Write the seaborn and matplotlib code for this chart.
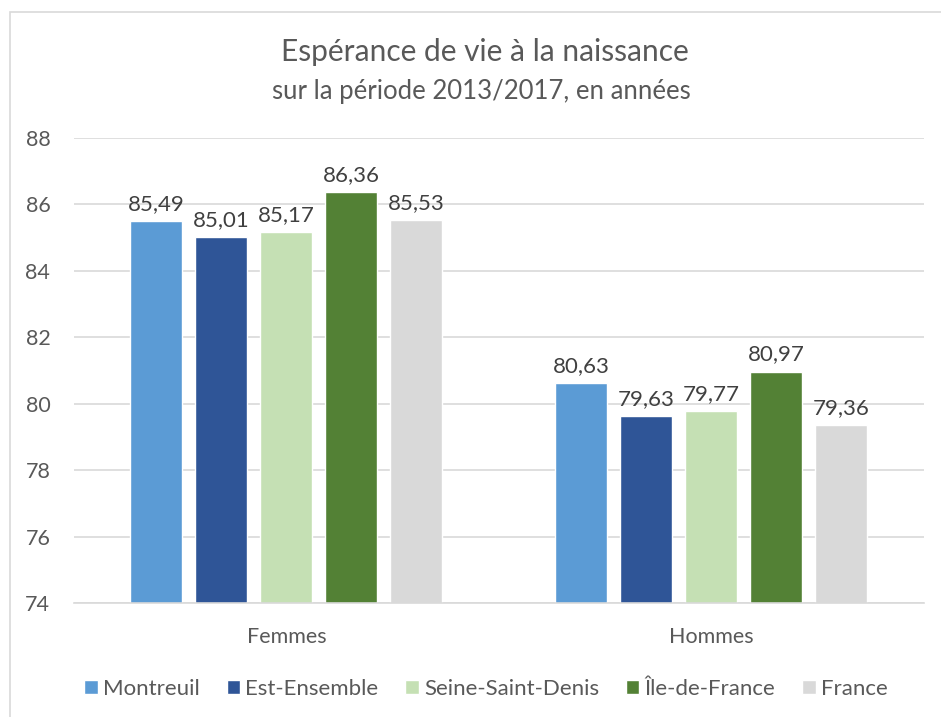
import matplotlib
matplotlib.use("Agg")
import matplotlib.pyplot as plt
import matplotlib.patches as mpatches
import seaborn as sns
import pandas as pd

# data
sexes = ["Femmes", "Hommes"]
territoires = ["Montreuil", "Est-Ensemble", "Seine-Saint-Denis", "Île-de-France", "France"]
femmes = [85.49, 85.01, 85.17, 86.36, 85.53]
hommes = [80.63, 79.63, 79.77, 80.97, 79.36]
couleurs = ["#5B9BD5", "#2F5597", "#C5E0B4", "#538135", "#D9D9D9"]
yticks = [74, 76, 78, 80, 82, 84, 86, 88]

df = pd.DataFrame({
    "sexe": [sexes[0]] * 5 + [sexes[1]] * 5,
    "territoire": territoires * 2,
    "valeur": femmes + hommes,
})

sns.set_style("white")
plt.rcParams["font.family"] = ["Lato", "DejaVu Sans"]
txt = "#595959"

fig = plt.figure(figsize=(9.41, 7.17), dpi=100)
ax = fig.add_axes([0.0786, 0.159, 0.903, 0.6485])

sns.barplot(data=df, x="sexe", y="valeur", hue="territoire", order=sexes,
            hue_order=territoires, palette=couleurs, width=0.765, gap=0.2,
            saturation=1, ax=ax, legend=True)

ax.set_ylim(74, 88)
ax.set_xlim(-0.5, 1.5)
ax.set_yticks(yticks)
ax.set_yticklabels([str(t) for t in yticks])
ax.yaxis.grid(True, color="#D9D9D9", linewidth=1.2)
ax.set_axisbelow(True)
for s in ["top", "right", "left"]:
    ax.spines[s].set_visible(False)
ax.spines["bottom"].set_color("#D9D9D9")
ax.spines["bottom"].set_linewidth(1.2)
ax.tick_params(axis="y", length=0, labelsize=15.5, colors=txt, pad=17)
ax.tick_params(axis="x", length=0, labelsize=15.5, colors=txt, pad=17)
ax.set_xlabel("")
ax.set_ylabel("")

for cont in ax.containers:
    ax.bar_label(cont, labels=[f"{v:.2f}".replace(".", ",") for v in cont.datavalues],
                 padding=5, fontsize=16, color="#404040")

h, l = ax.get_legend_handles_labels()
ax.legend(h, l, loc="center", bbox_to_anchor=(0.485, -0.185), ncol=5, frameon=False,
          fontsize=16, labelcolor=txt, handlelength=0.6, handleheight=0.6,
          handletextpad=0.25, columnspacing=1.2)

fig.text(0.515, 0.928, "Espérance de vie à la naissance", ha="center", va="center",
         fontsize=21.5, color=txt)
fig.text(0.512, 0.872, "sur la période 2013/2017, en années", ha="center", va="center",
         fontsize=18.5, color=txt)

fig.patches.append(mpatches.Rectangle((0.011, -0.01), 1.0, 0.993, transform=fig.transFigure,
                                      fill=False, edgecolor="#D9D9D9", linewidth=1.2))

fig.savefig("out.png", dpi=100)
